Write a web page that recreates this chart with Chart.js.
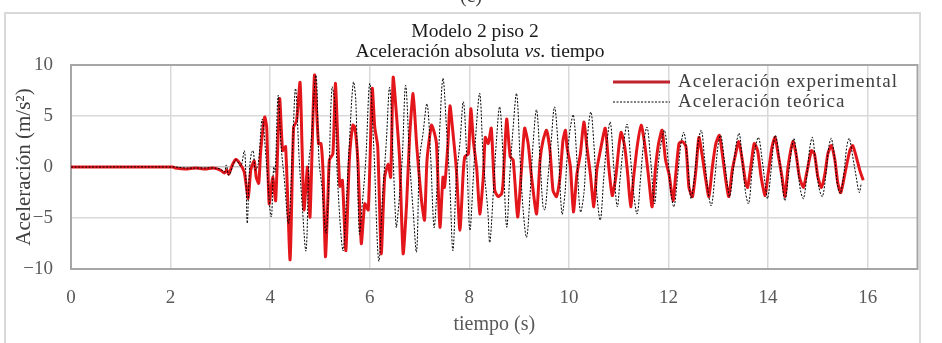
<!DOCTYPE html>
<html><head><meta charset="utf-8">
<script src="https://cdn.jsdelivr.net/npm/chart.js@4.4.1/dist/chart.umd.min.js"></script>
<style>html,body{margin:0;padding:0;background:#fff;}canvas{display:block}</style>
</head><body>
<canvas id="c" width="942" height="343"></canvas>
<script>
// ---- text ----
const panelLabel = '(c)';
const titleLine1 = 'Modelo 2 piso 2';
const titleLine2 = ['Aceleración absoluta ', 'vs.', ' tiempo'];
const xTitle = 'tiempo (s)';
const yTitle = 'Aceleración (m/s²)';
const seriesNames = ['Aceleración experimental', 'Aceleración teórica'];
// ---- ticks ----
const xTicks = [0, 2, 4, 6, 8, 10, 12, 14, 16];
const yTicks = [-10, -5, 0, 5, 10];
// ---- experimental series (time s, acceleration m/s2) ----
const tExp = [0,2.05,2.1,2.3,2.5,2.7,2.85,3.0,3.08,3.13,3.17,3.24,3.31,3.41,3.48,3.56,3.61,3.68,3.72,3.77,3.81,3.89,3.93,3.98,4.05,4.11,4.19,4.25,4.31,4.40,4.47,4.53,4.60,4.64,4.68,4.75,4.80,4.89,4.97,5.02,5.06,5.11,5.16,5.19,5.26,5.31,5.36,5.40,5.45,5.52,5.59,5.66,5.70,5.76,5.83,5.90,5.97,6.05,6.10,6.16,6.23,6.30,6.37,6.42,6.47,6.53,6.60,6.67,6.74,6.80,6.87,6.94,7.04,7.10,7.15,7.24,7.30,7.34,7.41,7.47,7.50,7.57,7.61,7.68,7.74,7.81,7.88,7.91,7.98,8.03,8.08,8.15,8.21,8.28,8.32,8.38,8.44,8.51,8.58,8.65,8.68,8.75,8.82,8.88,8.97,9.04,9.11,9.18,9.25,9.35,9.42,9.48,9.55,9.62,9.68,9.75,9.82,9.88,9.93,9.96,10.03,10.09,10.16,10.23,10.30,10.36,10.43,10.50,10.56,10.63,10.73,10.80,10.87,10.94,11.01,11.05,11.12,11.18,11.24,11.30,11.37,11.45,11.52,11.60,11.67,11.74,11.80,11.87,11.94,12.01,12.09,12.14,12.21,12.28,12.35,12.41,12.48,12.55,12.61,12.68,12.74,12.81,12.88,12.95,13.02,13.08,13.15,13.21,13.28,13.34,13.41,13.48,13.55,13.59,13.66,13.72,13.79,13.86,13.94,14.00,14.08,14.14,14.21,14.28,14.34,14.40,14.50,14.56,14.63,14.71,14.77,14.87,14.93,15.00,15.07,15.14,15.20,15.27,15.34,15.40,15.46,15.54,15.64,15.70,15.77,15.84,15.91];
const aExp = [0,0,-0.1,-0.2,-0.1,-0.2,-0.1,-0.3,-0.6,-0.3,-0.7,0.2,0.75,0.2,-0.5,-3.1,-0.3,0.6,-1.0,-1.6,1.6,4.9,3.9,-3.6,-1.0,-3.3,6.7,1.6,2.0,-9.1,3.9,4.5,8.3,2.0,-4.2,0.0,-4.9,9.0,2.3,2.3,-0.3,-8.8,-3.0,0.7,1.3,8.2,2.3,-1.9,-1.3,-8.2,0.7,4.1,3.9,0.7,-7.5,-3.6,-4.2,7.7,3.9,2.0,-8.5,-1.0,0.3,-1.0,8.8,5.5,0.7,-8.5,-3.6,2.9,7.2,2.3,-3.3,-5.2,0.7,4.1,3.3,2.3,-5.9,-1.0,-2.0,2.3,6.0,2.9,-0.3,-6.2,-0.3,1.0,1.3,5.7,2.6,-0.3,-4.6,-1.0,2.9,2.3,3.8,-2.3,-2.9,-2.6,-1.3,4.7,1.0,0.7,-4.9,-0.7,3.8,2.3,-1.0,-4.6,0.7,2.6,3.6,1.6,-2.3,-2.9,-1.0,2.6,3.6,2.0,0,-4.4,-0.7,1.3,4.4,2.0,-0.7,-3.9,-0.3,1.6,3.8,0,-2.8,-1.0,2.3,3.4,2.0,-0.7,-3.9,-1.0,2.0,4.1,2.3,-1.0,-3.9,0,2.3,3.6,0.7,-0.7,-3.3,-1.0,2.3,2.5,2.0,-2.0,-2.9,-0.3,2.9,1.0,-1.0,-2.9,0,2.3,3.1,1.3,-1.3,-2.9,-0.3,1.1,2.5,0.7,-1.6,-2.0,0.3,2.3,1.6,-1.0,-2.8,-0.7,2.0,2.9,1.0,-1.0,-2.9,0,2.5,1.3,-1.0,-2.0,-0.7,1.6,1.3,-1.0,-2.0,-0.7,1.3,2.1,0.7,-1.6,-2.5,-0.7,1.6,2.1,1.0,-0.3,-1.3];
// ---- theoretical series ----
const tTeo = [0,2.05,2.3,2.6,2.85,3.0,3.08,3.12,3.17,3.31,3.41,3.48,3.51,3.54,3.58,3.62,3.66,3.70,3.76,3.84,3.92,4.02,4.07,4.10,4.16,4.22,4.28,4.37,4.45,4.51,4.58,4.64,4.72,4.78,4.82,4.92,4.98,5.04,5.12,5.17,5.24,5.30,5.35,5.46,5.52,5.59,5.67,5.72,5.79,5.85,5.92,6.00,6.08,6.18,6.26,6.33,6.40,6.47,6.53,6.56,6.65,6.72,6.80,6.87,6.94,7.00,7.07,7.15,7.22,7.29,7.34,7.41,7.47,7.54,7.61,7.67,7.74,7.81,7.88,7.95,8.01,8.08,8.14,8.21,8.28,8.37,8.41,8.48,8.54,8.61,8.68,8.75,8.81,8.88,8.95,9.02,9.08,9.15,9.22,9.28,9.35,9.42,9.48,9.52,9.58,9.64,9.71,9.78,9.86,9.92,9.96,10.03,10.09,10.16,10.23,10.30,10.36,10.44,10.50,10.56,10.63,10.70,10.76,10.83,10.90,10.97,11.03,11.10,11.17,11.24,11.30,11.37,11.44,11.50,11.57,11.64,11.72,11.78,11.85,11.92,11.99,12.05,12.11,12.18,12.25,12.31,12.38,12.45,12.52,12.59,12.66,12.72,12.80,12.86,12.93,13.00,13.05,13.12,13.19,13.23,13.30,13.36,13.42,13.48,13.55,13.61,13.68,13.76,13.81,13.88,13.95,13.99,14.06,14.11,14.15,14.22,14.29,14.34,14.41,14.48,14.52,14.58,14.65,14.71,14.78,14.84,14.89,14.95,15.02,15.09,15.16,15.22,15.27,15.34,15.40,15.45,15.52,15.58,15.63,15.70,15.77,15.83,15.87];
const aTeo = [0,0,-0.1,-0.1,-0.1,-0.2,-0.5,0.2,-0.8,0.7,0.1,1.6,-0.5,-5.5,-0.7,1.3,1.6,-0.3,0.3,4.7,0.7,-4.9,0,-0.5,7.0,2.0,-1.0,-5.5,2.0,7.7,1.0,-3.5,-8.2,0.7,2.3,9.0,0.7,-2.0,-6.5,-2.6,7.8,6.2,-1.0,-8.2,-4.2,2.3,8.3,6.5,-6.5,-3.6,0.7,8.2,2.0,-9.2,-2.6,2.3,7.8,0.7,-5.9,-4.9,0.7,8.0,0.7,-4.2,-8.3,0.7,3.3,6.2,1.3,-5.9,-3.0,4.2,8.7,3.9,-2.0,-8.2,-1.0,2.3,6.4,0.7,-6.2,-1.0,3.9,7.2,0.7,-4.2,-7.4,-2.6,2.3,5.9,0.7,-5.9,-1.0,3.9,7.2,0.7,-4.2,-6.9,-2.6,2.3,5.6,0.7,-3.9,-4.2,-1.0,2.3,5.9,2.3,-4.6,-2.6,0.7,3.9,5.1,0.7,-4.4,-2.6,2.3,5.4,2.3,-2.6,-5.2,-1.0,2.3,4.4,0,-3.9,-1.0,2.3,4.2,0.7,-2.6,-4.6,-1.0,2.3,3.9,0.7,-3.6,-0.3,2.3,3.6,0.7,-2.6,-3.9,-1.0,2.3,3.4,0.7,-3.1,-1.0,2.3,3.6,1.0,-2.6,-3.8,-1.0,2.3,3.1,0.7,-2.0,-2.9,-0.3,2.3,3.3,0.7,-2.6,-3.6,-0.3,2.3,2.9,0.7,-2.0,-3.1,-0.3,2.3,3.1,1.0,-2.0,-3.3,-0.7,2.0,2.8,0.7,-2.3,-3.1,-0.7,2.0,2.9,0.7,-2.0,-2.9,-0.7,2.0,2.8,0.7,-2.0,-2.6,-0.7,2.0,2.8,1.0,-1.0,-2.5,-1.6];

const SERIF = '"Liberation Serif", "Times New Roman", serif';
const expColor = '#e3161c';
const teoColor = '#000000';

const decor = {
  id: 'decor',
  beforeDraw(chart) {
    const ctx = chart.ctx;
    ctx.save();
    ctx.fillStyle = '#fff';
    ctx.fillRect(0, 0, chart.width, chart.height);
    ctx.strokeStyle = '#d9d9d9';
    ctx.lineWidth = 2;
    ctx.strokeRect(5, 13, 915, 345);
    ctx.fillStyle = '#404040';
    ctx.font = '20px ' + SERIF;
    ctx.textAlign = 'center';
    ctx.textBaseline = 'alphabetic';
    ctx.fillText(panelLabel, 471, 2);
    ctx.restore();
  },
  beforeDatasetsDraw(chart) {
    const {ctx, chartArea: a} = chart;
    ctx.save();
    ctx.strokeStyle = '#a6a6a6';
    ctx.lineWidth = 2;
    ctx.strokeRect(a.left, a.top, a.right - a.left, a.bottom - a.top);
    ctx.restore();
  },
  afterDraw(chart) {
    const ctx = chart.ctx;
    ctx.save();
    ctx.fillStyle = '#1a1a1a';
    ctx.textBaseline = 'middle';
    ctx.textAlign = 'left';
    // title line 1
    ctx.font = '19.5px ' + SERIF;
    let w = ctx.measureText(titleLine1).width;
    ctx.fillText(titleLine1, 475 - w / 2, 32);
    // title line 2 with italic part
    const fonts = ['19.5px ' + SERIF, 'italic 19.5px ' + SERIF, '19.5px ' + SERIF];
    let widths = titleLine2.map((s, i) => { ctx.font = fonts[i]; return ctx.measureText(s).width; });
    let total = widths.reduce((p, c) => p + c, 0);
    let x = 480 - total / 2;
    titleLine2.forEach((s, i) => { ctx.font = fonts[i]; ctx.fillText(s, x, 52); x += widths[i]; });
    // legend
    const ds = chart.data.datasets;
    const rows = [82, 102];
    ctx.font = '19px ' + SERIF;
    ctx.fillStyle = '#404040';
    const w0 = ctx.measureText(seriesNames[0]).width;
    const ls = Math.max(0, (220 - w0) / seriesNames[0].length);
    ctx.letterSpacing = ls.toFixed(2) + 'px';
    ds.forEach((d, i) => {
      const y = rows[i];
      ctx.beginPath();
      ctx.strokeStyle = i === 0 ? '#c0232b' : '#000';
      ctx.lineWidth = i === 0 ? 3 : 1;
      ctx.setLineDash(i === 0 ? [] : [2, 1.5]);
      ctx.moveTo(613, y); ctx.lineTo(670, y);
      ctx.stroke();
      ctx.setLineDash([]);
      ctx.fillText(seriesNames[i], 678, y);
    });
    ctx.restore();
  }
};

new Chart(document.getElementById('c'), {
  type: 'line',
  data: {
    datasets: [
      { label: seriesNames[0], data: tExp.map((t, i) => ({x: t, y: aExp[i]})),
        borderColor: expColor, borderWidth: 3, pointRadius: 0, tension: 0.2, order: 1 },
      { label: seriesNames[1], data: tTeo.map((t, i) => ({x: t, y: aTeo[i]})),
        borderColor: teoColor, borderWidth: 1, borderDash: [2, 1.5], pointRadius: 0, tension: 0.35, order: 0 }
    ]
  },
  options: {
    responsive: false,
    animation: false,
    layout: { padding: { left: 10, top: 65, right: 24.5, bottom: 0 } },
    plugins: { legend: { display: false }, tooltip: { enabled: false }, title: { display: false } },
    scales: {
      x: {
        type: 'linear', min: 0, max: 17,
        afterBuildTicks: s => { s.ticks = xTicks.map(v => ({value: v})); },
        afterFit: s => { s.height = 74; },
        ticks: { font: { family: SERIF, size: 19 }, color: '#595959', padding: 18, maxRotation: 0 },
        grid: { color: '#d9d9d9', lineWidth: 1.5, drawTicks: false },
        border: { display: false },
        title: { display: true, text: xTitle, font: { family: SERIF, size: 20 }, color: '#595959', padding: { top: 0, bottom: 6 } }
      },
      y: {
        min: -10, max: 10,
        afterBuildTicks: s => { s.ticks = yTicks.map(v => ({value: v})); },
        afterFit: s => { s.width = 61; },
        ticks: { font: { family: SERIF, size: 19 }, color: '#595959', padding: 18,
                 callback: v => v < 0 ? '\u2212' + Math.abs(v) : String(v) },
        grid: { color: c => c.tick && c.tick.value === 0 ? '#bfbfbf' : '#d9d9d9', lineWidth: 1.5, drawTicks: false },
        border: { display: false },
        title: { display: true, text: yTitle, font: { family: SERIF, size: 21 }, color: '#404040', padding: { top: 2, bottom: 0 } }
      }
    }
  },
  plugins: [decor]
});
</script>
</body></html>
